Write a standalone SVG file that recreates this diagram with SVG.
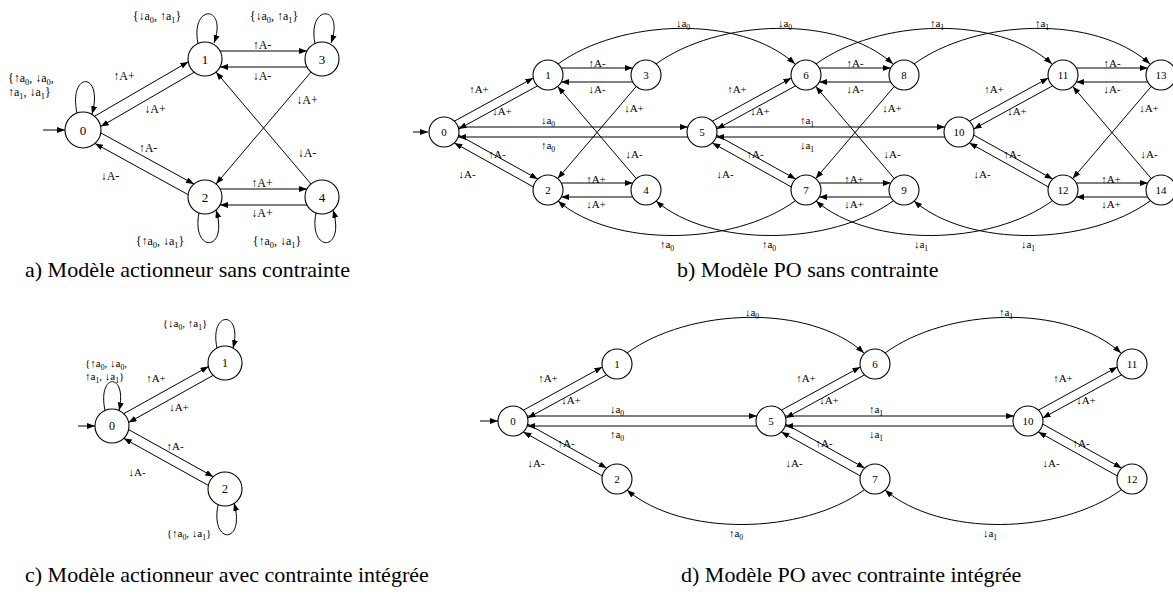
<svg xmlns="http://www.w3.org/2000/svg" width="1173" height="594" viewBox="0 0 1173 594">
<defs>
<marker id="ah" viewBox="0 0 8 6" markerWidth="8" markerHeight="6" refX="8" refY="3" orient="auto" markerUnits="userSpaceOnUse"><path d="M0,0 L8,3 L0,6 Z" fill="#000"/></marker>
</defs>
<style>
text{font-family:"Liberation Serif","Times New Roman",serif;fill:#000}
.nd circle{fill:#fff;stroke:#000;stroke-width:1.1}
.nd text{text-anchor:middle}
.fa{font-size:13px}.fb{font-size:11px}.fc{font-size:12px}
.e{fill:none;stroke:#000;stroke-width:1;marker-end:url(#ah)}
.l{font-size:11px;text-anchor:middle}
.l12{font-size:12px;text-anchor:middle}
.ls{font-size:12px}
.lc{font-size:11px}
.s{font-size:70%;baseline-shift:-2.5px}
.cap{font-size:22px}
</style>
<rect width="1173" height="594" fill="#fff"/>

<!-- ===== Panel a ===== -->
<g id="a-n0" class="nd"><circle cx="83" cy="130" r="18"/><text class="fa" x="83" y="134.5">0</text></g>
<g id="a-n1" class="nd"><circle cx="205" cy="59" r="17"/><text class="fa" x="205" y="63.5">1</text></g>
<g id="a-n2" class="nd"><circle cx="205" cy="197" r="17"/><text class="fa" x="205" y="201.5">2</text></g>
<g id="a-n3" class="nd"><circle cx="322" cy="59" r="17"/><text class="fa" x="322" y="63.5">3</text></g>
<g id="a-n4" class="nd"><circle cx="322" cy="197" r="17"/><text class="fa" x="322" y="201.5">4</text></g>

<!-- ===== Panel b nodes ===== -->
<g id="b-n0" class="nd"><circle cx="444" cy="132" r="15"/><text class="fb" x="444" y="136">0</text></g>
<g id="b-n1" class="nd"><circle cx="548" cy="75" r="15"/><text class="fb" x="548" y="79">1</text></g>
<g id="b-n2" class="nd"><circle cx="548" cy="190" r="15"/><text class="fb" x="548" y="194">2</text></g>
<g id="b-n3" class="nd"><circle cx="646" cy="75" r="15"/><text class="fb" x="646" y="79">3</text></g>
<g id="b-n4" class="nd"><circle cx="646" cy="190" r="15"/><text class="fb" x="646" y="194">4</text></g>
<g id="b-n5" class="nd"><circle cx="702" cy="132" r="15"/><text class="fb" x="702" y="136">5</text></g>
<g id="b-n6" class="nd"><circle cx="806" cy="75" r="15"/><text class="fb" x="806" y="79">6</text></g>
<g id="b-n7" class="nd"><circle cx="806" cy="190" r="15"/><text class="fb" x="806" y="194">7</text></g>
<g id="b-n8" class="nd"><circle cx="904" cy="75" r="15"/><text class="fb" x="904" y="79">8</text></g>
<g id="b-n9" class="nd"><circle cx="904" cy="190" r="15"/><text class="fb" x="904" y="194">9</text></g>
<g id="b-n10" class="nd"><circle cx="959" cy="132" r="15"/><text class="fb" x="959" y="136">10</text></g>
<g id="b-n11" class="nd"><circle cx="1063" cy="75" r="15"/><text class="fb" x="1063" y="79">11</text></g>
<g id="b-n12" class="nd"><circle cx="1063" cy="190" r="15"/><text class="fb" x="1063" y="194">12</text></g>
<g id="b-n13" class="nd"><circle cx="1161" cy="75" r="15"/><text class="fb" x="1161" y="79">13</text></g>
<g id="b-n14" class="nd"><circle cx="1161" cy="190" r="15"/><text class="fb" x="1161" y="194">14</text></g>

<!-- ===== Panel c nodes ===== -->
<g id="c-n0" class="nd"><circle cx="112" cy="426" r="17"/><text class="fc" x="112" y="430">0</text></g>
<g id="c-n1" class="nd"><circle cx="225" cy="363" r="17"/><text class="fc" x="225" y="367">1</text></g>
<g id="c-n2" class="nd"><circle cx="225" cy="489" r="17"/><text class="fc" x="225" y="493">2</text></g>

<!-- ===== Panel d nodes ===== -->
<g id="d-n0" class="nd"><circle cx="513" cy="421" r="15"/><text class="fb" x="513" y="425">0</text></g>
<g id="d-n1" class="nd"><circle cx="617" cy="364" r="15"/><text class="fb" x="617" y="368">1</text></g>
<g id="d-n2" class="nd"><circle cx="617" cy="479" r="15"/><text class="fb" x="617" y="483">2</text></g>
<g id="d-n5" class="nd"><circle cx="771" cy="421" r="15"/><text class="fb" x="771" y="425">5</text></g>
<g id="d-n6" class="nd"><circle cx="875" cy="364" r="15"/><text class="fb" x="875" y="368">6</text></g>
<g id="d-n7" class="nd"><circle cx="875" cy="479" r="15"/><text class="fb" x="875" y="483">7</text></g>
<g id="d-n10" class="nd"><circle cx="1028" cy="421" r="15"/><text class="fb" x="1028" y="425">10</text></g>
<g id="d-n11" class="nd"><circle cx="1132" cy="364" r="15"/><text class="fb" x="1132" y="368">11</text></g>
<g id="d-n12" class="nd"><circle cx="1132" cy="479" r="15"/><text class="fb" x="1132" y="483">12</text></g>

<!-- ===== Connectors ===== -->
<g id="connectors">
  <!-- panel a -->
  <path class="e" d="M43,130 H65"/>
  <path class="e" d="M94.7,116.2 L188.3,61.8"/>
  <path class="e" d="M194.3,72.2 L100.7,126.6"/>
  <path class="e" d="M220,51 H307"/>
  <path class="e" d="M307,67 H220"/>
  <path class="e" d="M311,72 L216,184"/>
  <path class="e" d="M311,184 L216,72"/>
  <path class="e" d="M100.8,132.9 L194,184.1"/>
  <path class="e" d="M188.2,194.7 L95,143.5"/>
  <path class="e" d="M220,189 H307"/>
  <path class="e" d="M307,205 H220"/>
  <path class="e" d="M198,43.5 C190,4 228,4 214,43"/>
  <path class="e" d="M315,43.5 C307,4 345,4 331,43"/>
  <path class="e" d="M77,113 C68,71 104,71 92,114"/>
  <path class="e" d="M199,213 C191,253 229,253 216,210"/>
  <path class="e" d="M316,213 C308,253 346,253 333,210"/>

  <!-- panel b -->
  <path class="e" d="M413,132 H428"/>
  <g transform="translate(444,132)">
    <path class="e" d="M10.3,-10.8 L89.3,-54"/>
    <path class="e" d="M93.7,-46.2 L14.7,-3"/>
    <path class="e" d="M117.3,-64 L188.7,-64"/>
    <path class="e" d="M188.7,-50 L117.3,-50"/>
    <path class="e" d="M192.3,-45.6 L113.7,46.6"/>
    <path class="e" d="M192.3,46.6 L113.7,-45.6"/>
    <path class="e" d="M14.7,3.1 L93.7,47.1"/>
    <path class="e" d="M89.3,54.9 L10.3,10.9"/>
    <path class="e" d="M117.3,51 L188.7,51"/>
    <path class="e" d="M188.7,65 L117.3,65"/>
  </g>
  <g transform="translate(702,132)">
    <path class="e" d="M10.3,-10.8 L89.3,-54"/>
    <path class="e" d="M93.7,-46.2 L14.7,-3"/>
    <path class="e" d="M117.3,-64 L188.7,-64"/>
    <path class="e" d="M188.7,-50 L117.3,-50"/>
    <path class="e" d="M192.3,-45.6 L113.7,46.6"/>
    <path class="e" d="M192.3,46.6 L113.7,-45.6"/>
    <path class="e" d="M14.7,3.1 L93.7,47.1"/>
    <path class="e" d="M89.3,54.9 L10.3,10.9"/>
    <path class="e" d="M117.3,51 L188.7,51"/>
    <path class="e" d="M188.7,65 L117.3,65"/>
  </g>
  <g transform="translate(959,132)">
    <path class="e" d="M10.3,-10.8 L89.3,-54"/>
    <path class="e" d="M93.7,-46.2 L14.7,-3"/>
    <path class="e" d="M117.3,-64 L188.7,-64"/>
    <path class="e" d="M188.7,-50 L117.3,-50"/>
    <path class="e" d="M192.3,-45.6 L113.7,46.6"/>
    <path class="e" d="M192.3,46.6 L113.7,-45.6"/>
    <path class="e" d="M14.7,3.1 L93.7,47.1"/>
    <path class="e" d="M89.3,54.9 L10.3,10.9"/>
    <path class="e" d="M117.3,51 L188.7,51"/>
    <path class="e" d="M188.7,65 L117.3,65"/>
  </g>
  <path class="e" d="M458.1,127 L687.9,127"/>
  <path class="e" d="M687.9,137 L458.1,137"/>
  <path class="e" d="M716.1,127 L944.9,127"/>
  <path class="e" d="M944.9,137 L716.1,137"/>
  <path class="e" d="M558,64 C620,19 740,14 795,64"/>
  <path class="e" d="M656,64 C718,19 838,14 893,64"/>
  <path class="e" d="M816,64 C878,19 997,14 1052,64"/>
  <path class="e" d="M914,64 C976,19 1095,14 1150,64"/>
  <path class="e" d="M795,201 C733,246 613,248 558,201"/>
  <path class="e" d="M893,201 C831,246 711,248 656,201"/>
  <path class="e" d="M1052,201 C990,246 871,248 816,201"/>
  <path class="e" d="M1150,201 C1088,246 969,248 914,201"/>

  <!-- panel c -->
  <path class="e" d="M78,426 H95"/>
  <path class="e" d="M123.7,413.7 L208.5,366.5"/>
  <path class="e" d="M213.3,375.3 L128.5,422.5"/>
  <path class="e" d="M128.5,429.5 L213.3,476.7"/>
  <path class="e" d="M208.5,485.5 L123.7,438.3"/>
  <path class="e" d="M217,348 C209,310 243,310 233,348"/>
  <path class="e" d="M105,410.5 C97,372 128,372 119,410.5"/>
  <path class="e" d="M218,505 C210,545 246,545 234,503"/>

  <!-- panel d -->
  <path class="e" d="M480,421 H498"/>
  <g transform="translate(513,421)">
    <path class="e" d="M10.3,-10.8 L89.3,-54"/>
    <path class="e" d="M93.7,-46.2 L14.7,-3"/>
    <path class="e" d="M14.7,3.1 L93.7,47.1"/>
    <path class="e" d="M89.3,54.9 L10.3,10.9"/>
  </g>
  <g transform="translate(771,421)">
    <path class="e" d="M10.3,-10.8 L89.3,-54"/>
    <path class="e" d="M93.7,-46.2 L14.7,-3"/>
    <path class="e" d="M14.7,3.1 L93.7,47.1"/>
    <path class="e" d="M89.3,54.9 L10.3,10.9"/>
  </g>
  <g transform="translate(1028,421)">
    <path class="e" d="M10.3,-10.8 L89.3,-54"/>
    <path class="e" d="M93.7,-46.2 L14.7,-3"/>
    <path class="e" d="M14.7,3.1 L93.7,47.1"/>
    <path class="e" d="M89.3,54.9 L10.3,10.9"/>
  </g>
  <path class="e" d="M527.1,416 L756.9,416"/>
  <path class="e" d="M756.9,426 L527.1,426"/>
  <path class="e" d="M785.1,416 L1013.9,416"/>
  <path class="e" d="M1013.9,426 L785.1,426"/>
  <path class="e" d="M627,353 C689,308 809,303 864,353"/>
  <path class="e" d="M885,353 C947,308 1066,303 1121,353"/>
  <path class="e" d="M864,490 C802,535 682,537 627,490"/>
  <path class="e" d="M1121,490 C1059,535 940,537 885,490"/>
</g>

<!-- ===== Labels ===== -->
<g id="labels">
  <!-- panel a -->
  <text class="l12" x="157" y="20">{↓a<tspan class="s">0</tspan>, ↑a<tspan class="s">1</tspan>}</text>
  <text class="l12" x="274" y="20">{↓a<tspan class="s">0</tspan>, ↑a<tspan class="s">1</tspan>}</text>
  <text class="ls" x="8" y="82">{↑a<tspan class="s">0</tspan>, ↓a<tspan class="s">0</tspan>,</text>
  <text class="ls" x="8" y="96">↑a<tspan class="s">1</tspan>, ↓a<tspan class="s">1</tspan>}</text>
  <text class="l12" x="160" y="245">{↑a<tspan class="s">0</tspan>, ↓a<tspan class="s">1</tspan>}</text>
  <text class="l12" x="277" y="245">{↑a<tspan class="s">0</tspan>, ↓a<tspan class="s">1</tspan>}</text>
  <text class="l12" x="124" y="80">↑A+</text>
  <text class="l12" x="155" y="113">↓A+</text>
  <text class="l12" x="262" y="49">↑A-</text>
  <text class="l12" x="262" y="80">↓A-</text>
  <text class="l12" x="307" y="104">↓A+</text>
  <text class="l12" x="307" y="157">↓A-</text>
  <text class="l12" x="148" y="152">↑A-</text>
  <text class="l12" x="110" y="180">↓A-</text>
  <text class="l12" x="262" y="187">↑A+</text>
  <text class="l12" x="262" y="217">↓A+</text>

  <!-- panel b -->
  <g transform="translate(444,132)">
    <text class="l" x="35" y="-39">↑A+</text>
    <text class="l" x="58" y="-17">↓A+</text>
    <text class="l" x="153" y="-65">↑A-</text>
    <text class="l" x="153" y="-39">↓A-</text>
    <text class="l" x="190" y="-20">↓A+</text>
    <text class="l" x="190" y="26">↓A-</text>
    <text class="l" x="53" y="26">↑A-</text>
    <text class="l" x="23" y="46">↓A-</text>
    <text class="l" x="152" y="51">↑A+</text>
    <text class="l" x="152" y="76">↓A+</text>
  </g>
  <g transform="translate(702,132)">
    <text class="l" x="35" y="-39">↑A+</text>
    <text class="l" x="58" y="-17">↓A+</text>
    <text class="l" x="153" y="-65">↑A-</text>
    <text class="l" x="153" y="-39">↓A-</text>
    <text class="l" x="190" y="-20">↓A+</text>
    <text class="l" x="190" y="26">↓A-</text>
    <text class="l" x="53" y="26">↑A-</text>
    <text class="l" x="23" y="46">↓A-</text>
    <text class="l" x="152" y="51">↑A+</text>
    <text class="l" x="152" y="76">↓A+</text>
  </g>
  <g transform="translate(959,132)">
    <text class="l" x="35" y="-39">↑A+</text>
    <text class="l" x="58" y="-17">↓A+</text>
    <text class="l" x="153" y="-65">↑A-</text>
    <text class="l" x="153" y="-39">↓A-</text>
    <text class="l" x="190" y="-20">↓A+</text>
    <text class="l" x="190" y="26">↓A-</text>
    <text class="l" x="53" y="26">↑A-</text>
    <text class="l" x="23" y="46">↓A-</text>
    <text class="l" x="152" y="51">↑A+</text>
    <text class="l" x="152" y="76">↓A+</text>
  </g>
  <text class="l" x="548" y="124">↓a<tspan class="s">0</tspan></text>
  <text class="l" x="548" y="149">↑a<tspan class="s">0</tspan></text>
  <text class="l" x="807" y="124">↑a<tspan class="s">1</tspan></text>
  <text class="l" x="807" y="149">↓a<tspan class="s">1</tspan></text>
  <text class="l" x="683" y="27">↓a<tspan class="s">0</tspan></text>
  <text class="l" x="785" y="27">↓a<tspan class="s">0</tspan></text>
  <text class="l" x="937" y="27">↑a<tspan class="s">1</tspan></text>
  <text class="l" x="1042" y="27">↑a<tspan class="s">1</tspan></text>
  <text class="l" x="667" y="248">↑a<tspan class="s">0</tspan></text>
  <text class="l" x="769" y="248">↑a<tspan class="s">0</tspan></text>
  <text class="l" x="921" y="248">↓a<tspan class="s">1</tspan></text>
  <text class="l" x="1028" y="248">↓a<tspan class="s">1</tspan></text>

  <!-- panel c -->
  <text class="l" x="185" y="327">{↓a<tspan class="s">0</tspan>, ↑a<tspan class="s">1</tspan>}</text>
  <text class="lc" x="85" y="367">{↑a<tspan class="s">0</tspan>, ↓a<tspan class="s">0</tspan>,</text>
  <text class="lc" x="85" y="380">↑a<tspan class="s">1</tspan>, ↓a<tspan class="s">1</tspan>}</text>
  <text class="l" x="189" y="537">{↑a<tspan class="s">0</tspan>, ↓a<tspan class="s">1</tspan>}</text>
  <text class="l" x="156" y="382">↑A+</text>
  <text class="l" x="179" y="411">↓A+</text>
  <text class="l" x="175" y="450">↑A-</text>
  <text class="l" x="137" y="476">↓A-</text>

  <!-- panel d -->
  <g transform="translate(513,421)">
    <text class="l" x="35" y="-39">↑A+</text>
    <text class="l" x="58" y="-17">↓A+</text>
    <text class="l" x="53" y="26">↑A-</text>
    <text class="l" x="23" y="46">↓A-</text>
  </g>
  <g transform="translate(771,421)">
    <text class="l" x="35" y="-39">↑A+</text>
    <text class="l" x="58" y="-17">↓A+</text>
    <text class="l" x="53" y="26">↑A-</text>
    <text class="l" x="23" y="46">↓A-</text>
  </g>
  <g transform="translate(1028,421)">
    <text class="l" x="35" y="-39">↑A+</text>
    <text class="l" x="58" y="-17">↓A+</text>
    <text class="l" x="53" y="26">↑A-</text>
    <text class="l" x="23" y="46">↓A-</text>
  </g>
  <text class="l" x="617" y="413">↓a<tspan class="s">0</tspan></text>
  <text class="l" x="617" y="438">↑a<tspan class="s">0</tspan></text>
  <text class="l" x="876" y="413">↑a<tspan class="s">1</tspan></text>
  <text class="l" x="876" y="438">↓a<tspan class="s">1</tspan></text>
  <text class="l" x="752" y="316">↓a<tspan class="s">0</tspan></text>
  <text class="l" x="1006" y="316">↑a<tspan class="s">1</tspan></text>
  <text class="l" x="736" y="537">↑a<tspan class="s">0</tspan></text>
  <text class="l" x="990" y="537">↓a<tspan class="s">1</tspan></text>
</g>

<!-- ===== Captions ===== -->
<g id="captions">
  <text class="cap" x="25" y="277">a) Modèle actionneur sans contrainte</text>
  <text class="cap" x="677" y="277">b) Modèle PO sans contrainte</text>
  <text class="cap" x="25" y="582">c) Modèle actionneur avec contrainte intégrée</text>
  <text class="cap" x="681" y="582">d) Modèle PO avec contrainte intégrée</text>
</g>
</svg>
